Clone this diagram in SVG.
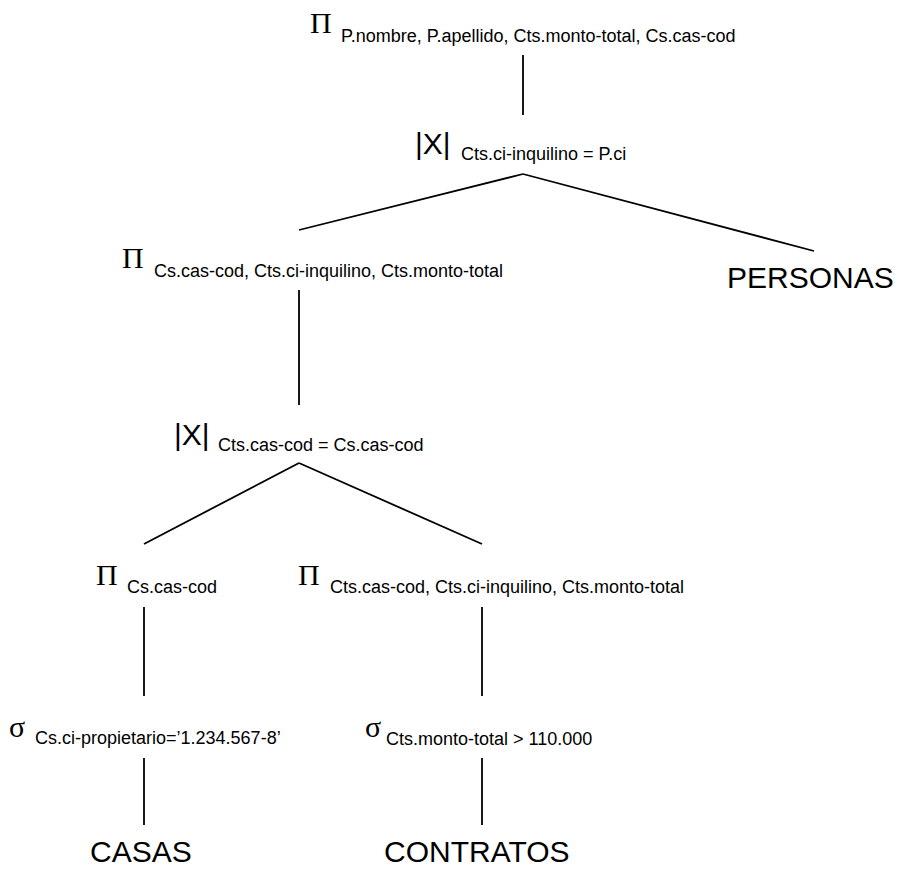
<svg xmlns="http://www.w3.org/2000/svg" width="904" height="876" viewBox="0 0 904 876">
<style>
.op{font-family:"Liberation Serif","Times New Roman",serif;font-size:30px;fill:#000}
.jn{font-family:"Liberation Sans",Arial,sans-serif;font-size:30px;fill:#000}
.sub{font-family:"Liberation Sans",Arial,sans-serif;font-size:18px;fill:#000}
.rel{font-family:"Liberation Sans",Arial,sans-serif;font-size:30px;fill:#000}
#edges line{stroke:#000;stroke-width:1.8;fill:none}
</style>
<rect width="904" height="876" fill="#fff"/>
<g id="edges">
<line x1="523" y1="55" x2="523" y2="115"/>
<line x1="523" y1="174" x2="299" y2="230"/>
<line x1="523" y1="174" x2="814" y2="251"/>
<line x1="299" y1="290" x2="299" y2="405"/>
<line x1="299" y1="463" x2="144" y2="544"/>
<line x1="299" y1="463" x2="482" y2="544"/>
<line x1="144" y1="607" x2="144" y2="696"/>
<line x1="482" y1="607" x2="482" y2="696"/>
<line x1="144" y1="758" x2="144" y2="825"/>
<line x1="482" y1="758" x2="482" y2="825"/>
</g>
<g id="proj-top">
<text class="op" x="310" y="33">Π</text>
<text class="sub" x="341" y="42">P.nombre, P.apellido, Cts.monto-total, Cs.cas-cod</text>
</g>
<g id="join-top">
<text class="jn" x="415" y="154">|X|</text>
<text class="sub" x="461" y="160">Cts.ci-inquilino = P.ci</text>
</g>
<g id="proj-mid">
<text class="op" x="122" y="268">Π</text>
<text class="sub" x="154" y="277">Cs.cas-cod, Cts.ci-inquilino, Cts.monto-total</text>
</g>
<g id="personas">
<text class="rel" x="727" y="288">PERSONAS</text>
</g>
<g id="join-mid">
<text class="jn" x="174" y="445">|X|</text>
<text class="sub" x="218" y="451">Cts.cas-cod = Cs.cas-cod</text>
</g>
<g id="proj-casas">
<text class="op" x="96" y="585">Π</text>
<text class="sub" x="127" y="593">Cs.cas-cod</text>
</g>
<g id="proj-contratos">
<text class="op" x="298" y="585">Π</text>
<text class="sub" x="330" y="593">Cts.cas-cod, Cts.ci-inquilino, Cts.monto-total</text>
</g>
<g id="sel-casas">
<text class="op" x="9" y="737">σ</text>
<text class="sub" x="35" y="744">Cs.ci-propietario=’1.234.567-8’</text>
</g>
<g id="sel-contratos">
<text class="op" x="365" y="737">σ</text>
<text class="sub" x="386" y="745">Cts.monto-total &gt; 110.000</text>
</g>
<g id="casas">
<text class="rel" x="90" y="862">CASAS</text>
</g>
<g id="contratos">
<text class="rel" x="384" y="862">CONTRATOS</text>
</g>
</svg>
